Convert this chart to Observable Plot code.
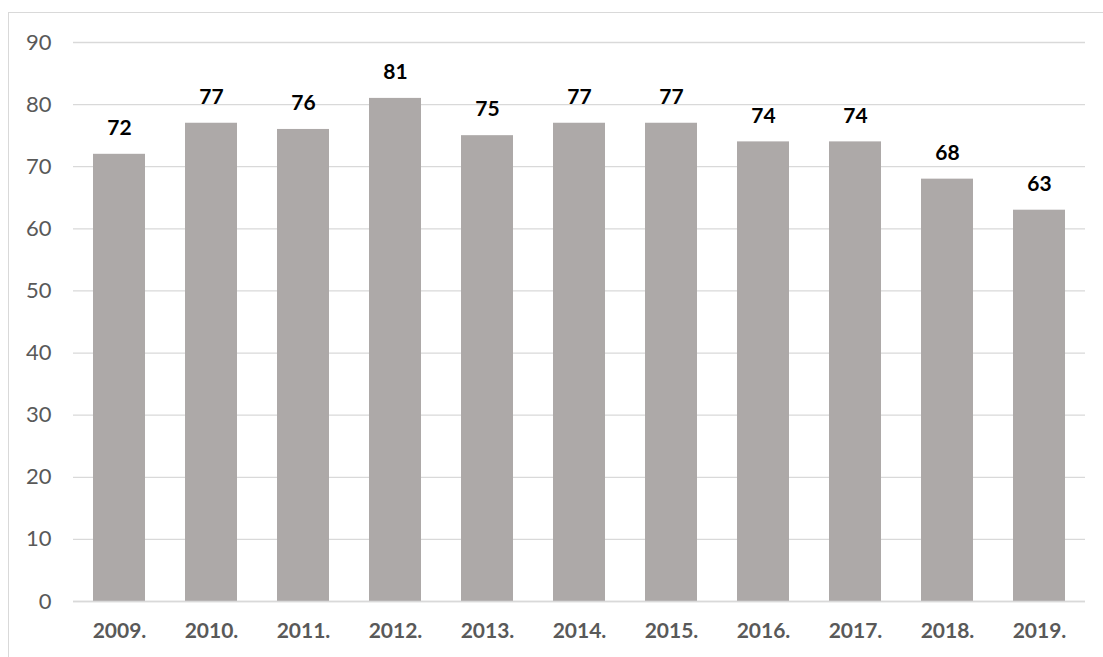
<!DOCTYPE html>
<html>
<head>
<meta charset="utf-8">
<script src="https://cdn.jsdelivr.net/npm/d3@7"></script>
<script src="https://cdn.jsdelivr.net/npm/@observablehq/plot@0.6"></script>
<style>
  html, body { margin: 0; padding: 0; background: #fff; width: 1103px; height: 657px; overflow: hidden; }
  #frame { position: absolute; left: 8px; top: 12px; width: 1200px; height: 800px; border: 1px solid #d9d9d9; box-sizing: border-box; }
  #chart { position: absolute; left: 0; top: 0; }
</style>
</head>
<body>
<div id="frame"></div>
<div id="chart"></div>
<script>
const years = ["2009.", "2010.", "2011.", "2012.", "2013.", "2014.", "2015.", "2016.", "2017.", "2018.", "2019."];
const values = [72, 77, 76, 81, 75, 77, 77, 74, 74, 68, 63];
const yTicks = [0, 10, 20, 30, 40, 50, 60, 70, 80, 90];

const data = years.map((year, i) => ({year, value: values[i]}));

const chart = Plot.plot({
  width: 1103,
  height: 657,
  marginLeft: 73,
  marginRight: 18,
  marginTop: 42,
  marginBottom: 56,
  style: {fontFamily: "Lato, 'Open Sans', sans-serif", background: "transparent", overflow: "visible"},
  x: {domain: years, paddingInner: 0.435, paddingOuter: 0.2175, label: null},
  y: {domain: [0, 90], label: null},
  marks: [
    Plot.ruleY(yTicks, {stroke: "#d9d9d9", strokeWidth: 1.3}),
    Plot.barY(data, {x: "year", y: "value", fill: "#ada9a8"}),
    Plot.ruleY([0], {stroke: "#d9d9d9", strokeWidth: 1.5}),
    Plot.text(data, {x: "year", y: "value", text: d => String(d.value), dy: -26, lineAnchor: "middle", fontSize: 21, fontWeight: "bold", fill: "#000"}),
    Plot.axisY({ticks: yTicks, tickSize: 0, tickPadding: 22, fontSize: 22, color: "#595959", label: null}),
    Plot.axisX({tickSize: 0, tickPadding: 22, fontSize: 21, fontWeight: "bold", color: "#595959", label: null})
  ]
});
document.getElementById("chart").appendChild(chart);
</script>
</body>
</html>
